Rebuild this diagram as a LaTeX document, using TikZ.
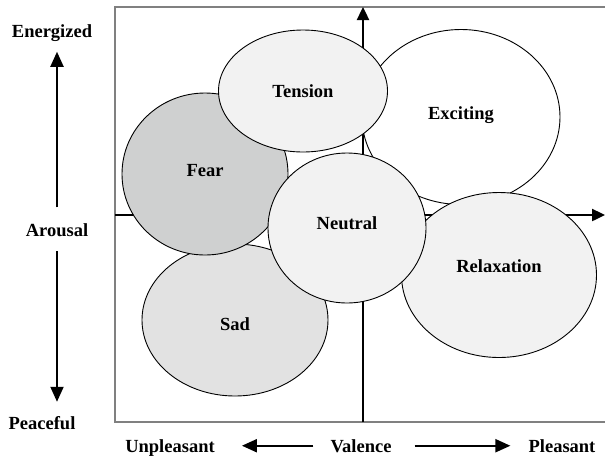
\documentclass[tikz,border=0pt]{standalone}
\usepackage{fontspec}
\setmainfont{Liberation Serif}
\usepackage{tikz}
\usetikzlibrary{arrows.meta}
\usetikzlibrary{shapes.geometric}
\definecolor{feargray}{RGB}{207,208,208}
\definecolor{sadgray}{RGB}{226,226,226}
\definecolor{palegray}{RGB}{242,242,242}
\definecolor{framegray}{RGB}{128,128,128}
\newcommand{\moodfont}{\fontsize{18.5}{21}\selectfont\bfseries}

\begin{document}
\begin{tikzpicture}[x=1pt,y=-1pt,
					  mood node/.style={ellipse,draw,line width=0.9pt,inner sep=0pt,text height=12.5pt,font=\moodfont},
					  side label/.style={inner sep=0pt,anchor=base,font=\moodfont},
					  axis/.style={line width=2.4pt,-{Triangle[length=13pt,width=12pt]}},
					  label arrow/.style={line width=2pt,-{Triangle[length=15pt,width=13pt]}}]
					
					  \useasboundingbox (0,0) rectangle (605,459);
					
					  % frame and axes
					  \coordinate (tr) at (608,7);
					  \coordinate (tl) at (115,7);
					  \coordinate (bl) at (115,422);
					  \coordinate (br) at (608,422);
					  \draw[framegray,line width=1.5pt] (tr) -- (tl) -- (bl) -- (br);
					
					  \coordinate (xstart) at (115,215);
					  \coordinate (xend) at (605,215);
					  \coordinate (ystart) at (363,422);
					  \coordinate (yend) at (363,7);
					  \draw[axis] (xstart) -- (xend);
					  \draw[axis] (ystart) -- (yend);
					
					  % moods
					  \node[mood node,fill=white,text depth=8.5pt,minimum width=198pt,minimum height=175pt] (exciting) at (461,117) {Exciting};
					  \node[mood node,fill=palegray,text depth=18.5pt,minimum width=195pt,minimum height=165pt] (relax) at (499,275) {Relaxation};
					  \node[mood node,fill=sadgray,text height=20pt,text depth=0pt,minimum width=186pt,minimum height=152pt] (sad) at (235,320) {Sad};
					  \node[mood node,fill=feargray,text depth=8.5pt,minimum width=166pt,minimum height=162pt] (fear) at (205,174) {Fear};
					  \node[mood node,fill=palegray,text depth=0pt,minimum width=169pt,minimum height=122pt] (tension) at (303,91) {Tension};
					  \node[mood node,fill=palegray,text depth=10.5pt,minimum width=158pt,minimum height=150pt] (neutral) at (347,228) {Neutral};
					
					  % arousal
					  \node[side label] (energized) at (52,37) {Energized};
					  \node[side label] (arousal) at (57,236) {Arousal};
					  \node[side label] (peaceful) at (42,429) {Peaceful};
					  \draw[label arrow,shorten <=15.5pt,shorten >=10.5pt] (arousal.north) -- (energized.south -| arousal.north);
					  \draw[label arrow,shorten <=15pt,shorten >=14pt] (arousal.south) -- (peaceful.north -| arousal.south);
					
					  % valence
					  \node[side label] (unpleasant) at (170,452) {Unpleasant};
					  \node[side label] (valence) at (361,452) {Valence};
					  \node[side label] (pleasant) at (562,452) {Pleasant};
					  \draw[label arrow,shorten <=17pt,shorten >=27pt] (valence.west) -- (unpleasant.east |- valence.west);
					  \draw[label arrow,shorten <=23pt,shorten >=18pt] (valence.east) -- (pleasant.west |- valence.east);
					\end{tikzpicture}
\end{document}
